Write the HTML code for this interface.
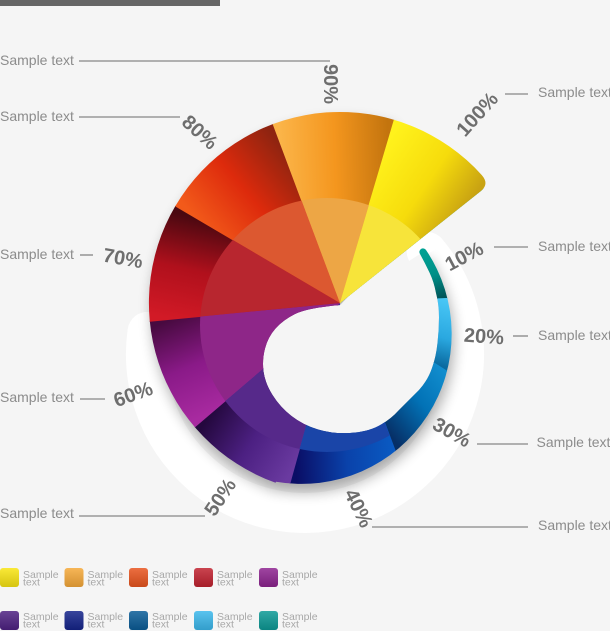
<!DOCTYPE html>
<html><head><meta charset="utf-8"><style>html,body{margin:0;padding:0;background:#f5f5f5}svg{display:block}</style></head>
<body>
<svg width="610" height="631" viewBox="0 0 610 631" xmlns="http://www.w3.org/2000/svg" font-family="'Liberation Sans', sans-serif">
<defs>
<clipPath id="cp"><path d="M426,250 A150,150 0 0 1 276,481.7 L275.6,482.8 A191,191 0 1 1 481.9,175.2 Q489.5,184.1 480.9,191 L340,303 L340,305 Q307,308 295,314 Q283,320 275.5,328.5 Q268,337 265,348.5 Q262,360 263.5,371.5 Q265,383 272.5,395 Q280,407 291.5,416 Q303,425 318,429.5 Q333,434 350,433 Q367,432 378.5,426 Q390,420 399,410 Q409,400 419,390 Q428,380 432,368 Q436,357 437.5,343 Q439,330 439,317.5 Q439,304 436,293 Q434,282 429.5,272.5 Q425,263 420,254 A3.6,3.6 0 0 1 426,250 Z"/></clipPath>
<clipPath id="ci"><circle cx="327" cy="325" r="127"/></clipPath>
<clipPath id="cs"><path clip-rule="evenodd" d="M0,0 H610 V631 H0 Z M340,305 L552,91 L600,153 Z"/></clipPath>
<filter id="blur" x="-20%" y="-20%" width="140%" height="140%"><feGaussianBlur stdDeviation="7"/></filter>
<linearGradient id="gY" gradientUnits="userSpaceOnUse" x1="388.3" y1="140" x2="473" y2="197.2"><stop offset="0" stop-color="#fff21c"/><stop offset="0.55" stop-color="#f6dc0c"/><stop offset="1" stop-color="#c9a312"/></linearGradient>
<linearGradient id="gO" gradientUnits="userSpaceOnUse" x1="280.5" y1="143.8" x2="388.3" y2="140"><stop offset="0" stop-color="#fbb448"/><stop offset="0.5" stop-color="#f4961e"/><stop offset="1" stop-color="#c3740e"/></linearGradient>
<linearGradient id="gR" gradientUnits="userSpaceOnUse" x1="193.5" y1="216.7" x2="280.5" y2="143.8"><stop offset="0" stop-color="#f25a1a"/><stop offset="0.5" stop-color="#dd2a0c"/><stop offset="1" stop-color="#8e2410"/></linearGradient>
<linearGradient id="gD" gradientUnits="userSpaceOnUse" x1="170.8" y1="319.3" x2="193.5" y2="216.7"><stop offset="0" stop-color="#d21a26"/><stop offset="0.5" stop-color="#b0101c"/><stop offset="1" stop-color="#4a0810"/></linearGradient>
<linearGradient id="gP" gradientUnits="userSpaceOnUse" x1="210.7" y1="413.4" x2="170.8" y2="319.3"><stop offset="0" stop-color="#a82aa0"/><stop offset="0.5" stop-color="#8a1a88"/><stop offset="1" stop-color="#480a40"/></linearGradient>
<linearGradient id="gQ" gradientUnits="userSpaceOnUse" x1="294.6" y1="466.8" x2="210.7" y2="413.4"><stop offset="0" stop-color="#6a3aa0"/><stop offset="0.5" stop-color="#4c2082"/><stop offset="1" stop-color="#24083e"/></linearGradient>
<linearGradient id="gB" gradientUnits="userSpaceOnUse" x1="397.8" y1="457.6" x2="295.9" y2="462"><stop offset="0" stop-color="#0a5cc4"/><stop offset="0.5" stop-color="#0a42aa"/><stop offset="1" stop-color="#0a0e66"/></linearGradient>
<linearGradient id="gC" gradientUnits="userSpaceOnUse" x1="458.1" y1="378.2" x2="389" y2="434.1"><stop offset="0" stop-color="#1492d2"/><stop offset="0.5" stop-color="#0272b6"/><stop offset="1" stop-color="#062f66"/></linearGradient>
<linearGradient id="gL" gradientUnits="userSpaceOnUse" x1="454.9" y1="298" x2="437" y2="364.8"><stop offset="0" stop-color="#4ccaf8"/><stop offset="0.6" stop-color="#2aa8e0"/><stop offset="1" stop-color="#0a6aa0"/></linearGradient>
<linearGradient id="gT" gradientUnits="userSpaceOnUse" x1="418.3" y1="240.8" x2="439.9" y2="298.6"><stop offset="0" stop-color="#00a898"/><stop offset="0.6" stop-color="#009088"/><stop offset="1" stop-color="#005458"/></linearGradient>
<linearGradient id="sq" x1="0" y1="0" x2="0" y2="1"><stop offset="0" stop-color="#fff" stop-opacity="0.15"/><stop offset="1" stop-color="#000" stop-opacity="0.14"/></linearGradient>
</defs>

<rect width="610" height="631" fill="#f5f5f5"/>
<rect x="0" y="0" width="220" height="6" fill="#666"/>

<!-- white band -->
<path d="M426.8,251.8 A159,159 0 1 1 147.5,331.9" stroke="#ffffff" stroke-width="40" stroke-linecap="round" fill="none"/>

<!-- shadow -->
<g clip-path="url(#cs)">
<g filter="url(#blur)" opacity="0.32">
<path transform="translate(2,8)" d="M426,250 A150,150 0 0 1 276,481.7 L275.6,482.8 A191,191 0 0 1 394.2,119.9 L340,305 Z" fill="#000"/>
</g>
</g>
<path d="M340,305 Q307,308 295,314 Q283,320 275.5,328.5 Q268,337 265,348.5 Q262,360 263.5,371.5 Q265,383 272.5,395 Q280,407 291.5,416 Q303,425 318,429.5 Q333,434 350,433 Q367,432 378.5,426 Q390,420 399,410 Q409,400 419,390 Q428,380 432,368 Q436,357 437.5,343 Q439,330 439,317.5 Q439,304 436,293 Q434,282 429.5,272.5 Q425,263 420,254 Z" fill="#f5f5f5"/>

<!-- chart -->
<g clip-path="url(#cp)">
<polygon points="340,303 543.5,141.1 599.7,291.7" fill="url(#gT)" stroke="url(#gT)" stroke-width="0.8"/>
<polygon points="340,303 599.7,291.7 559.3,442.7" fill="url(#gL)" stroke="url(#gL)" stroke-width="0.8"/>
<polygon points="340,303 559.3,442.7 431.1,546.5" fill="url(#gC)" stroke="url(#gC)" stroke-width="0.8"/>
<polygon points="340,303 431.1,546.5 270.5,553.5" fill="url(#gB)" stroke="url(#gB)" stroke-width="0.8"/>
<polygon points="340,303 270.5,553.5 142.3,471.8" fill="url(#gQ)" stroke="url(#gQ)" stroke-width="0.8"/>
<polygon points="340,303 142.3,471.8 81.2,327.9" fill="url(#gP)" stroke="url(#gP)" stroke-width="0.8"/>
<polygon points="340,303 81.2,327.9 116,171" fill="url(#gD)" stroke="url(#gD)" stroke-width="0.8"/>
<polygon points="340,303 116,171 248.9,59.5" fill="url(#gR)" stroke="url(#gR)" stroke-width="0.8"/>
<polygon points="340,303 248.9,59.5 413.8,53.7" fill="url(#gO)" stroke="url(#gO)" stroke-width="0.8"/>
<polygon points="340,303 413.8,53.7 543.5,141.1" fill="url(#gY)" stroke="url(#gY)" stroke-width="0.8"/>
<g clip-path="url(#ci)">
<polygon points="340,303 431.1,546.5 270.5,553.5" fill="#1a45a8"/>
<polygon points="340,303 270.5,553.5 142.3,471.8" fill="#56298a"/>
<polygon points="340,303 142.3,471.8 81.2,327.9" fill="#8e2688"/>
<polygon points="340,303 81.2,327.9 116,171" fill="#b8262f"/>
<polygon points="340,303 116,171 248.9,59.5" fill="#dc5830"/>
<polygon points="340,303 248.9,59.5 413.8,53.7" fill="#eda645"/>
<polygon points="340,303 413.8,53.7 543.5,141.1" fill="#f7e43a"/>
</g>
</g>

<!-- leader lines -->
<g stroke="#9a9a9a" stroke-width="1.6" fill="none">
<line x1="79" y1="61" x2="330" y2="61"/>
<line x1="79" y1="117" x2="180" y2="117"/>
<line x1="80" y1="255" x2="93" y2="255"/>
<line x1="80" y1="399" x2="105" y2="399"/>
<line x1="79" y1="516" x2="205" y2="516"/>
<line x1="505" y1="94" x2="528" y2="94"/>
<line x1="494" y1="247" x2="528" y2="247"/>
<line x1="513" y1="336" x2="528" y2="336"/>
<line x1="477" y1="444" x2="528" y2="444"/>
<line x1="372" y1="527" x2="528" y2="527"/>
</g>

<!-- sample text labels -->
<g font-size="14" fill="#8c8c8c">
<text x="0" y="65">Sample text</text>
<text x="0" y="121">Sample text</text>
<text x="0" y="259">Sample text</text>
<text x="0" y="402">Sample text</text>
<text x="0" y="518">Sample text</text>
<text x="538" y="97">Sample text</text>
<text x="538" y="251">Sample text</text>
<text x="538" y="340">Sample text</text>
<text x="536.5" y="447">Sample text</text>
<text x="538" y="530">Sample text</text>
</g>

<!-- percent labels -->
<g font-size="20" font-weight="bold" fill="#6e6e6e" text-anchor="middle">
<text transform="translate(477,114) rotate(-48)" dy="0.35em">100%</text>
<text transform="translate(331,84) rotate(90)" dy="0.35em">90%</text>
<text transform="translate(200,132) rotate(42)" dy="0.35em">80%</text>
<text transform="translate(123,258) rotate(10)" dy="0.35em">70%</text>
<text transform="translate(133,394) rotate(-20)" dy="0.35em">60%</text>
<text transform="translate(220,497) rotate(-56)" dy="0.35em">50%</text>
<text transform="translate(359,508) rotate(64)" dy="0.35em">40%</text>
<text transform="translate(452,432) rotate(29)" dy="0.35em">30%</text>
<text transform="translate(484,336) rotate(4)" dy="0.35em">20%</text>
<text transform="translate(464,256) rotate(-28)" dy="0.35em">10%</text>
</g>

<!-- legend -->
<g>
<rect x="0" y="568" width="19" height="19" rx="3" fill="#f9e514"/>
<rect x="64.5" y="568" width="19" height="19" rx="3" fill="#f6a93a"/>
<rect x="129" y="568" width="19" height="19" rx="3" fill="#e9551f"/>
<rect x="194" y="568" width="19" height="19" rx="3" fill="#c12330"/>
<rect x="259" y="568" width="19" height="19" rx="3" fill="#8e2590"/>
<rect x="0" y="611" width="19" height="19" rx="3" fill="#4f2283"/>
<rect x="64.5" y="611" width="19" height="19" rx="3" fill="#15248b"/>
<rect x="129" y="611" width="19" height="19" rx="3" fill="#0b5d98"/>
<rect x="194" y="611" width="19" height="19" rx="3" fill="#3cb8ec"/>
<rect x="259" y="611" width="19" height="19" rx="3" fill="#0d9a96"/>
<g fill="url(#sq)">
<rect x="0" y="568" width="19" height="19" rx="3"/>
<rect x="64.5" y="568" width="19" height="19" rx="3"/>
<rect x="129" y="568" width="19" height="19" rx="3"/>
<rect x="194" y="568" width="19" height="19" rx="3"/>
<rect x="259" y="568" width="19" height="19" rx="3"/>
<rect x="0" y="611" width="19" height="19" rx="3"/>
<rect x="64.5" y="611" width="19" height="19" rx="3"/>
<rect x="129" y="611" width="19" height="19" rx="3"/>
<rect x="194" y="611" width="19" height="19" rx="3"/>
<rect x="259" y="611" width="19" height="19" rx="3"/>
</g>
<g font-size="10.5" fill="#a8a8a8">
<text x="23" y="578">Sample</text><text x="23" y="585.5">text</text>
<text x="87.5" y="578">Sample</text><text x="87.5" y="585.5">text</text>
<text x="152" y="578">Sample</text><text x="152" y="585.5">text</text>
<text x="217" y="578">Sample</text><text x="217" y="585.5">text</text>
<text x="282" y="578">Sample</text><text x="282" y="585.5">text</text>
<text x="23" y="620">Sample</text><text x="23" y="627.5">text</text>
<text x="87.5" y="620">Sample</text><text x="87.5" y="627.5">text</text>
<text x="152" y="620">Sample</text><text x="152" y="627.5">text</text>
<text x="217" y="620">Sample</text><text x="217" y="627.5">text</text>
<text x="282" y="620">Sample</text><text x="282" y="627.5">text</text>
</g>
</g>
</svg>
</body></html>
